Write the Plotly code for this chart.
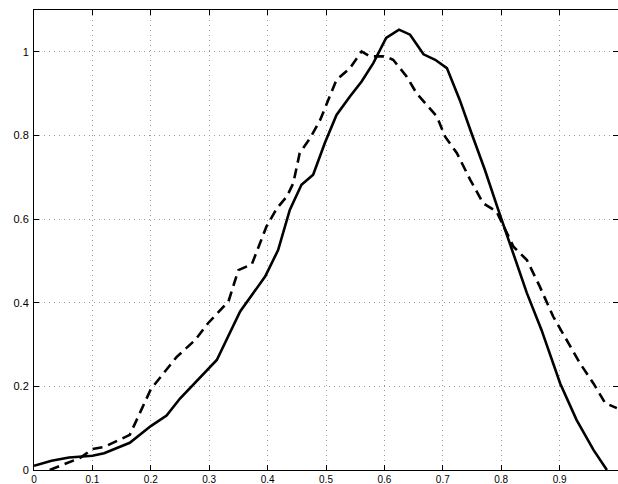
import plotly.graph_objects as go

solid_x = [0.0, 0.03, 0.06, 0.10, 0.12, 0.164, 0.20, 0.227, 0.25, 0.28, 0.301, 0.313, 0.353,
           0.396, 0.418, 0.438, 0.458, 0.478, 0.498, 0.518, 0.541, 0.561, 0.581, 0.603,
           0.625, 0.644, 0.667, 0.687, 0.707, 0.729, 0.749, 0.772, 0.795, 0.818, 0.844,
           0.869, 0.901, 0.929, 0.958, 0.981]
solid_y = [0.010, 0.022, 0.030, 0.034, 0.040, 0.065, 0.105, 0.130, 0.171, 0.215, 0.247, 0.263,
           0.379, 0.463, 0.526, 0.622, 0.682, 0.706, 0.782, 0.849, 0.893, 0.929, 0.973,
           1.033, 1.053, 1.041, 0.994, 0.981, 0.961, 0.885, 0.806, 0.718, 0.622, 0.526,
           0.423, 0.335, 0.207, 0.120, 0.048, 0.0]

dash_x = [0.027, 0.079, 0.10, 0.12, 0.164, 0.20, 0.244, 0.276, 0.298, 0.333, 0.35, 0.373,
          0.398, 0.416, 0.433, 0.444, 0.455, 0.473, 0.49, 0.507, 0.518, 0.541, 0.561, 0.575,
          0.601, 0.615, 0.638, 0.655, 0.672, 0.69, 0.704, 0.724, 0.747, 0.769, 0.792, 0.821,
          0.844, 0.866, 0.889, 0.912, 0.935, 0.958, 0.978, 0.998]
dash_y = [0.0, 0.029, 0.050, 0.055, 0.084, 0.193, 0.270, 0.311, 0.351, 0.403, 0.478, 0.492,
          0.582, 0.626, 0.654, 0.686, 0.758, 0.794, 0.837, 0.893, 0.933, 0.961, 1.001, 0.989,
          0.989, 0.981, 0.941, 0.901, 0.873, 0.845, 0.797, 0.758, 0.694, 0.638, 0.618, 0.534,
          0.502, 0.439, 0.367, 0.311, 0.255, 0.207, 0.160, 0.148]

x_ticks = [0, 0.1, 0.2, 0.3, 0.4, 0.5, 0.6, 0.7, 0.8, 0.9]
x_tick_text = ["0", "0.1", "0.2", "0.3", "0.4", "0.5", "0.6", "0.7", "0.8", "0.9"]
y_ticks = [0, 0.2, 0.4, 0.6, 0.8, 1]
y_tick_text = ["0", "0.2", "0.4", "0.6", "0.8", "1"]

fig = go.Figure()
fig.add_trace(go.Scatter(x=solid_x, y=solid_y, mode="lines",
                         line=dict(color="black", width=2.6), showlegend=False))
fig.add_trace(go.Scatter(x=dash_x, y=dash_y, mode="lines",
                         line=dict(color="black", width=2.6, dash="10px,6px"), showlegend=False))

axis_common = dict(showline=True, linecolor="black", linewidth=1, mirror="allticks",
                   ticks="inside", ticklen=5, tickcolor="black", automargin=False,
                   showgrid=True, gridcolor="#999999", griddash="1px,4px", gridwidth=1,
                   zeroline=False)

fig.update_xaxes(range=[0, 1], tickvals=x_ticks, ticktext=x_tick_text,
                 ticklabelstandoff=0,
                 tickfont=dict(family="Liberation Sans, Arial", size=10, color="black"),
                 **axis_common)
fig.update_yaxes(range=[0, 1.1], tickvals=y_ticks, ticktext=y_tick_text,
                 ticklabelstandoff=2,
                 tickfont=dict(family="Liberation Sans, Arial", size=11, color="black"),
                 **axis_common)

fig.update_layout(width=618, height=484, margin=dict(l=34, r=0, t=10, b=14),
                  plot_bgcolor="white", paper_bgcolor="white")
fig.write_html("out.html", config={"displayModeBar": False},
               post_script="document.body.style.margin='0';document.body.style.padding='0';")
